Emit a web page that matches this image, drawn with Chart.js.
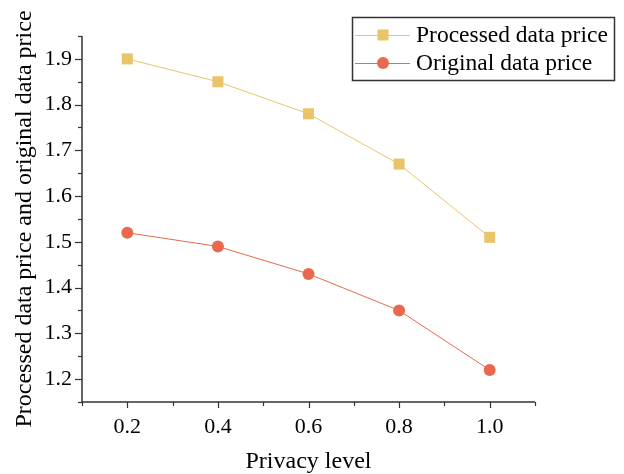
<!DOCTYPE html>
<html>
<head>
<meta charset="utf-8">
<script src="https://cdn.jsdelivr.net/npm/chart.js@4/dist/chart.umd.min.js"></script>
<style>
    html, body { margin: 0; padding: 0; background: #ffffff; }
    #wrap { width: 624px; height: 474px; }
</style>
</head>
<body>
<div id="wrap"><canvas id="chartPrecio" width="624" height="474"></canvas></div>
<script>
// ===== Precio de datos vs nivel de privacidad =====

const nivelesPrivacidad = [0.2, 0.4, 0.6, 0.8, 1.0];
const precioProcesado = [1.90, 1.85, 1.78, 1.67, 1.51];
const precioOriginal = [1.52, 1.49, 1.43, 1.35, 1.22];
const etiquetasSeries = ['Processed data price', 'Original data price'];
const tituloX = 'Privacy level';
const tituloY = 'Processed data price and original data price';

const colorProcesado = '#e9c46a';
const colorOriginal = '#e8694e';
const colorEje = '#333333';
const fuente = '"Liberation Serif", "Times New Roman", serif';

function puntos(valores) {
    return nivelesPrivacidad.map((x, i) => ({ x: x, y: valores[i] }));
}

// Marcas de eje (mayores con etiqueta, menores a mitad de paso)
const pluginMarcas = {
    id: 'marcasEje',
    afterDraw(chart) {
        const ctx = chart.ctx;
        const sx = chart.scales.x;
        const sy = chart.scales.y;
        const area = chart.chartArea;
        ctx.save();
        ctx.strokeStyle = colorEje;
        ctx.lineWidth = 1.5;

        // lineas de los ejes
        ctx.beginPath();
        ctx.moveTo(area.left, area.top);
        ctx.lineTo(area.left, area.bottom);
        ctx.lineTo(area.right, area.bottom);
        ctx.stroke();

        ctx.lineWidth = 1.2;
        sx.ticks.forEach(t => {
            const px = Math.round(sx.getPixelForValue(t.value)) + 0.5;
            const mayor = Math.round(t.value * 10) % 2 === 0;
            ctx.beginPath();
            ctx.moveTo(px, area.bottom);
            ctx.lineTo(px, area.bottom + (mayor ? 6 : 4));
            ctx.stroke();
        });
        sy.ticks.forEach(t => {
            const py = Math.round(sy.getPixelForValue(t.value)) + 0.5;
            const mayor = Math.round(t.value * 100) % 10 === 0;
            ctx.beginPath();
            ctx.moveTo(area.left, py);
            ctx.lineTo(area.left - (mayor ? 7 : 4), py);
            ctx.stroke();
        });
        ctx.restore();
    }
};

// Leyenda dibujada en la esquina superior derecha
const pluginLeyenda = {
    id: 'leyendaCaja',
    afterDraw(chart) {
        const ctx = chart.ctx;
        const caja = { x: 352, y: 17, w: 262, h: 63 };
        ctx.save();
        ctx.strokeStyle = '#333333';
        ctx.lineWidth = 1.5;
        ctx.strokeRect(caja.x + 0.5, caja.y + 0.5, caja.w, caja.h);

        ctx.font = '23.5px ' + fuente;
        ctx.textBaseline = 'middle';
        chart.data.datasets.forEach((ds, i) => {
            const yc = 35 + i * 28;
            ctx.strokeStyle = ds.borderColor;
            ctx.lineWidth = 1;
            ctx.beginPath();
            ctx.moveTo(355, yc + 0.5);
            ctx.lineTo(410, yc + 0.5);
            ctx.stroke();
            ctx.fillStyle = ds.backgroundColor;
            Chart.helpers.drawPoint(ctx, {
                pointStyle: ds.pointStyle,
                radius: ds.pointRadius,
                borderWidth: 0
            }, 383, yc);
            ctx.fillStyle = '#000000';
            ctx.fillText(ds.label, 416, yc + 1);
        });
        ctx.restore();
    }
};

document.addEventListener('DOMContentLoaded', function() {
    const ctx = document.getElementById('chartPrecio');
    new Chart(ctx, {
        type: 'line',
        data: {
            datasets: [
                {
                    label: etiquetasSeries[0],
                    data: puntos(precioProcesado),
                    borderColor: colorProcesado,
                    backgroundColor: colorProcesado,
                    borderWidth: 1,
                    pointStyle: 'rect',
                    pointRadius: 7.8,
                    pointBackgroundColor: colorProcesado,
                    pointBorderColor: colorProcesado,
                    pointBorderWidth: 0
                },
                {
                    label: etiquetasSeries[1],
                    data: puntos(precioOriginal),
                    borderColor: colorOriginal,
                    backgroundColor: colorOriginal,
                    borderWidth: 1,
                    pointStyle: 'circle',
                    pointRadius: 6,
                    pointBackgroundColor: colorOriginal,
                    pointBorderColor: colorOriginal,
                    pointBorderWidth: 0
                }
            ]
        },
        options: {
            responsive: false,
            animation: false,
            devicePixelRatio: 1,
            layout: { padding: { top: 36, right: 89, bottom: 0, left: 0 } },
            plugins: {
                legend: { display: false },
                tooltip: { enabled: false }
            },
            scales: {
                x: {
                    type: 'linear',
                    min: 0.1,
                    max: 1.1,
                    border: { display: false },
                    grid: { display: false, drawTicks: false },
                    ticks: {
                        stepSize: 0.1,
                        padding: 12,
                        maxRotation: 0,
                        autoSkip: false,
                        color: '#000000',
                        font: { family: fuente, size: 22 },
                        callback: function(v) {
                            const d = Math.round(v * 10);
                            return d % 2 === 0 ? (d / 10).toFixed(1) : '';
                        }
                    },
                    title: {
                        display: true,
                        text: tituloX,
                        color: '#000000',
                        font: { family: fuente, size: 24, lineHeight: 1 },
                        padding: { top: 0, bottom: 0 }
                    },
                    afterFit: function(scale) { scale.height = 72; }
                },
                y: {
                    min: 1.15,
                    max: 1.95,
                    border: { display: false },
                    grid: { display: false, drawTicks: false },
                    ticks: {
                        stepSize: 0.05,
                        padding: 10,
                        autoSkip: false,
                        color: '#000000',
                        font: { family: fuente, size: 22 },
                        callback: function(v) {
                            const c = Math.round(v * 100);
                            return c % 10 === 0 ? (c / 100).toFixed(1) : '';
                        }
                    },
                    title: {
                        display: true,
                        text: tituloY,
                        color: '#000000',
                        font: { family: fuente, size: 24, lineHeight: 1 },
                        padding: { top: 13, bottom: 0 }
                    },
                    afterFit: function(scale) { scale.width = 82; }
                }
            }
        },
        plugins: [pluginMarcas, pluginLeyenda]
    });
});
</script>
</body>
</html>
